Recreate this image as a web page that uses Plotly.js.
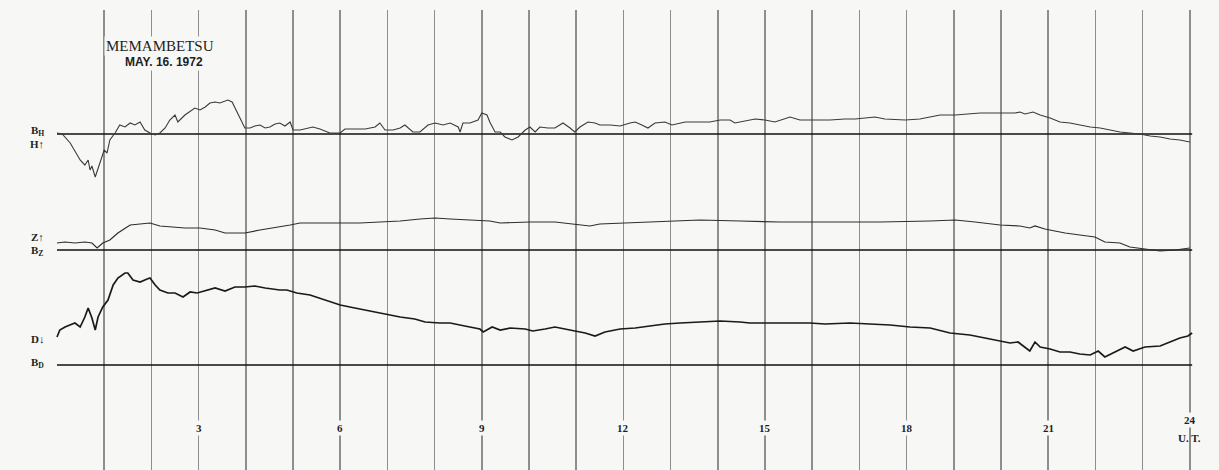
<!DOCTYPE html>
<html>
<head>
<meta charset="utf-8">
<script src="https://cdn.plot.ly/plotly-3.0.1.min.js"></script>
<style>html,body{margin:0;padding:0;background:#f7f7f6;}#chart{width:1219px;height:470px;}</style>
</head>
<body>
<div id="chart"></div>
<script>
// Time in hours U.T.
const hT = [0.00,0.11,0.28,0.49,0.59,0.66,0.70,0.74,0.81,0.91,1.00,1.06,1.12,1.23,1.33,1.44,1.55,1.65,1.76,1.86,1.97,2.08,2.18,2.29,2.39,2.50,2.56,2.71,2.92,3.03,3.14,3.24,3.35,3.45,3.54,3.62,3.71,3.83,3.98,4.09,4.19,4.30,4.41,4.51,4.62,4.72,4.83,4.94,5.00,5.15,5.30,5.42,5.57,5.78,6.00,6.10,6.31,6.53,6.74,6.84,6.95,7.12,7.27,7.37,7.54,7.69,7.86,8.01,8.18,8.33,8.50,8.54,8.60,8.75,8.92,9.00,9.11,9.17,9.28,9.39,9.49,9.64,9.77,9.92,10.02,10.13,10.23,10.40,10.55,10.72,10.87,10.97,11.08,11.25,11.40,11.50,11.72,11.93,12.14,12.25,12.39,12.52,12.67,12.88,13.03,13.31,13.62,13.83,14.05,14.26,14.36,14.58,14.79,15.00,15.21,15.53,15.74,16.06,16.38,16.69,16.91,17.12,17.33,17.54,17.86,17.97,18.28,18.50,18.71,19.03,19.24,19.56,19.87,20.08,20.30,20.40,20.51,20.68,20.83,21.04,21.25,21.46,21.67,21.89,22.10,22.31,22.52,22.73,22.94,23.16,23.37,23.58,23.79,24.00];
const hV = [1,0,-9,-26,-31,-26,-36,-32,-43,-29,-16,-19,-6,1,9,7,11,9,12,4,1,-1,1,6,14,19,12,19,26,24,27,31,32,31,33,34,32,21,6,6,8,9,6,7,10,11,8,12,4,4,6,7,5,1,1,5,5,5,7,11,4,4,6,9,2,2,9,11,9,11,7,2,11,11,14,21,19,12,2,2,-3,-6,-3,4,7,2,7,6,6,11,6,2,7,12,11,9,9,8,11,12,9,6,11,12,9,12,12,12,14,14,11,13,15,14,12,17,14,14,14,15,15,16,17,15,14,14,15,17,19,19,20,21,21,21,21,22,20,22,19,16,12,11,9,7,6,4,2,1,0,-2,-3,-5,-6,-8];

const zT = [0.00,0.17,0.38,0.59,0.74,0.85,0.97,1.12,1.29,1.55,1.76,1.97,2.18,2.39,2.71,3.03,3.35,3.56,3.98,4.30,4.72,4.94,5.15,5.57,6.00,6.42,6.84,7.27,7.69,8.01,8.33,8.96,9.17,9.39,10.02,10.55,10.97,11.29,11.50,12.03,12.56,12.99,13.62,14.47,15.32,16.38,17.44,18.50,19.03,19.45,19.98,20.40,20.61,20.72,20.93,21.14,21.36,21.67,21.99,22.20,22.52,22.73,23.05,23.37,23.69,24.00];
const zV = [7,8,7,8,7,2,7,10,17,25,26,27,24,23,22,22,20,17,17,20,23,25,27,27,27,27,28,29,31,32,31,30,29,27,28,28,26,24,26,27,28,29,30,29,28,28,28,29,30,28,25,24,22,24,21,19,17,15,13,8,7,3,1,-1,0,2];

const dT = [0.00,0.06,0.17,0.28,0.38,0.49,0.59,0.66,0.74,0.81,0.87,0.97,1.08,1.19,1.29,1.44,1.50,1.61,1.76,1.91,1.97,2.08,2.18,2.35,2.50,2.67,2.82,2.97,3.14,3.35,3.56,3.77,3.98,4.19,4.41,4.72,4.87,5.08,5.36,5.68,6.00,6.31,6.63,6.95,7.27,7.58,7.80,8.11,8.33,8.64,8.96,9.03,9.22,9.39,9.60,9.92,10.08,10.34,10.55,10.76,10.97,11.19,11.40,11.61,11.93,12.25,12.56,12.88,13.20,13.62,14.05,14.47,14.68,15.11,15.53,15.95,16.27,16.80,17.22,17.65,18.07,18.50,18.92,19.34,19.66,19.98,20.19,20.36,20.51,20.61,20.72,20.83,21.04,21.25,21.46,21.67,21.89,22.06,22.20,22.41,22.63,22.80,23.05,23.37,23.58,23.79,23.96,24.05];
const dV = [28,35,38,40,42,38,48,57,47,35,48,58,65,80,87,92,92,85,83,86,87,80,75,72,72,68,73,72,74,77,74,78,78,79,77,75,75,72,70,65,60,57,54,51,48,46,43,42,42,39,36,33,38,35,37,36,34,36,38,36,34,32,29,33,36,37,39,41,42,43,44,43,42,42,42,42,41,42,41,40,38,37,32,30,27,24,22,23,18,14,23,18,16,13,13,11,10,14,8,13,18,14,18,19,23,27,29,32];

const gridHours = [1,2,3,4,5,6,7,8,9,10,11,12,13,14,15,16,17,18,19,20,21,22,23,24];
const hourLabels = [3,6,9,12,15,18,21,24];
const baseSpan = [0, 24.05];

const serif = 'Liberation Serif, DejaVu Serif, serif';
const ink = '#1e1e1e';

const traces = [
  {x: baseSpan, y: [0,0], yaxis: 'y',  mode: 'lines', line: {color: '#111', width: 1.7}, hoverinfo: 'skip'},
  {x: baseSpan, y: [0,0], yaxis: 'y2', mode: 'lines', line: {color: '#111', width: 1.7}, hoverinfo: 'skip'},
  {x: baseSpan, y: [0,0], yaxis: 'y3', mode: 'lines', line: {color: '#111', width: 1.7}, hoverinfo: 'skip'},
  {x: hT, y: hV, yaxis: 'y',  mode: 'lines', name: 'H', line: {color: '#3a3a3a', width: 1.1}},
  {x: zT, y: zV, yaxis: 'y2', mode: 'lines', name: 'Z', line: {color: '#2e2e2e', width: 1.2}},
  {x: dT, y: dV, yaxis: 'y3', mode: 'lines', name: 'D', line: {color: '#1a1a1a', width: 1.7}}
];

const ann = [];
hourLabels.forEach(h => {
  ann.push({x: h, y: h === 24 ? -55 : -63, xref: 'x', yref: 'y3', text: '<b>' + h + '</b>', showarrow: false,
            font: {family: serif, size: 11, color: ink}, bgcolor: '#f7f7f6', xanchor: 'center'});
});
ann.push({x: 24, y: -73, xref: 'x', yref: 'y3', text: '<b>U. T.</b>', showarrow: false,
          font: {family: serif, size: 11, color: ink}});
const sideLabels = [
  ['B<sub>H</sub>', 'y', 3], ['H↑', 'y', -10],
  ['Z↑', 'y2', 13], ['B<sub>Z</sub>', 'y2', -1],
  ['D↓', 'y3', 26], ['B<sub>D</sub>', 'y3', 2]
];
sideLabels.forEach(s => {
  ann.push({x: -0.42, y: s[2], xref: 'x', yref: s[1], text: '<b>' + s[0] + '</b>', showarrow: false,
            font: {family: serif, size: 11, color: ink}});
});
ann.push({x: 2.18, y: 0.944, xref: 'x', yref: 'paper', text: 'MEMAMBETSU', showarrow: false,
          font: {family: serif, size: 15, color: ink}, bgcolor: '#f7f7f6'});
ann.push({x: 2.27, y: 0.906, xref: 'x', yref: 'paper', text: 'MAY. 16. 1972', showarrow: false,
          font: {family: 'Liberation Sans Narrow, Liberation Sans, sans-serif', size: 12, color: ink, weight: 'bold'}, bgcolor: '#f7f7f6'});

const hidden = {showgrid: false, zeroline: false, showticklabels: false, ticks: '', showline: false, fixedrange: true};
const layout = {
  width: 1219, height: 470,
  margin: {l: 0, r: 0, t: 10, b: 0, pad: 0},
  paper_bgcolor: '#f7f7f6', plot_bgcolor: '#f7f7f6',
  showlegend: false,
  xaxis: {range: [-1.2076, 24.6186], tickvals: gridHours, showgrid: true, gridcolor: '#8e8e8e', gridwidth: 1.5,
          zeroline: false, showticklabels: false, ticks: '', showline: false},
  yaxis: Object.assign({range: [-336, 124]}, hidden),
  yaxis2: Object.assign({range: [-220, 240], overlaying: 'y'}, hidden),
  yaxis3: Object.assign({range: [-105, 355], overlaying: 'y'}, hidden),
  annotations: ann
};
Plotly.newPlot('chart', traces, layout, {displayModeBar: false, staticPlot: true});
</script>
</body>
</html>
